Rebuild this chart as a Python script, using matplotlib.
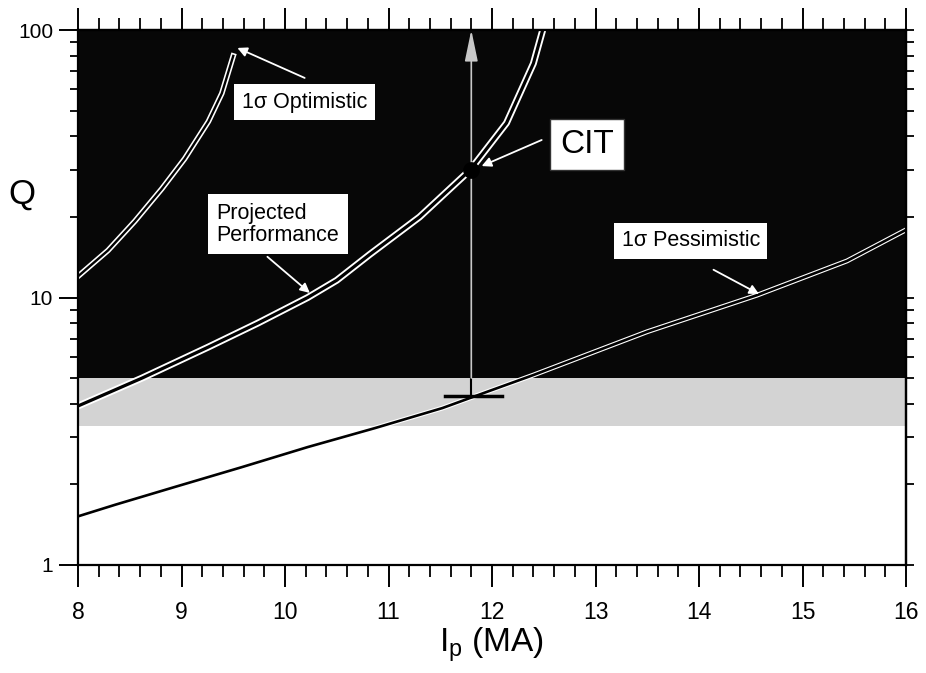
import numpy as np
import matplotlib
matplotlib.use('Agg')
import matplotlib.pyplot as plt
from matplotlib.ticker import MultipleLocator, NullFormatter

plt.rcParams['font.family'] = ['Liberation Sans', 'DejaVu Sans']

# curves: plasma current Ip (MA) vs Q
opt_ip = [8.0, 8.29, 8.55, 8.81, 9.03, 9.26, 9.39, 9.5]
opt_q = [12.0, 15.0, 19.3, 25.5, 33.0, 45.5, 58.0, 80.0]

proj_ip = [8.0, 8.62, 9.26, 9.74, 10.22, 10.5, 10.82, 11.3, 11.79, 12.14, 12.4, 12.49]
proj_q = [3.93, 5.0, 6.53, 8.03, 10.0, 11.6, 14.5, 20.0, 30.0, 44.9, 75.0, 100.0]

pess_ip = [8.0, 8.36, 8.94, 9.58, 10.22, 10.87, 11.52, 12.0, 12.4, 13.5, 14.56, 15.43, 16.0]
pess_q = [1.52, 1.68, 1.96, 2.32, 2.76, 3.25, 3.86, 4.51, 5.13, 7.45, 10.2, 13.7, 17.9]

# CIT design point and its lower bound
cit_ip = 11.8
cit_q = 30.0
cit_q_low = 4.3
cit_bar = [11.55, 12.1]

# shaded Q regions
q_dark = [5.0, 100.0]
q_gray = [3.3, 5.0]

fig = plt.figure(figsize=(9.26, 6.73), dpi=100)
ax = fig.add_axes([78/926, 1-565/673, 828/926, 535/673])
ax.set_yscale('log')
ax.set_xlim(8, 16)
ax.set_ylim(1, 100)

ax.axhspan(q_dark[0], q_dark[1], color='#070707', zorder=0, lw=0)
ax.axhspan(q_gray[0], q_gray[1], color='#d3d3d3', zorder=0, lw=0)

# curves: white halo + black core gives the double-line look on the dark fill
def curve(x, y, w_out, w_in):
    ax.plot(x, y, color='white', lw=w_out, zorder=3, solid_joinstyle='round')
    ax.plot(x, y, color='black', lw=w_in, zorder=4, solid_joinstyle='round')

curve(opt_ip, opt_q, 4.0, 1.7)
curve(proj_ip, proj_q, 5.0, 2.3)
curve(pess_ip, pess_q, 3.5, 1.9)

# CIT vertical range arrow
ax.plot([cit_ip, cit_ip], [cit_q_low, q_dark[0]], color='black', lw=1.5, zorder=5)
ax.annotate('', xy=(cit_ip, 100), xytext=(cit_ip, q_dark[0]),
            arrowprops=dict(arrowstyle='-|>,head_width=0.25,head_length=1.2',
                            color='#c8c8c8', lw=1.2, mutation_scale=16,
                            shrinkA=0, shrinkB=0), zorder=5)
ax.plot(cit_bar, [cit_q_low, cit_q_low], color='black', lw=2.5, zorder=5)
ax.plot(cit_ip, cit_q, 'o', color='black', ms=11, mec='black', zorder=6)

# labels with pointer arrows
arr = dict(arrowstyle='-|>', color='white', lw=1.3, mutation_scale=14,
           shrinkA=0, shrinkB=0)
ax.text(10.19, 53.8, '1σ Optimistic', fontsize=15.5, ha='center', va='center',
        bbox=dict(boxstyle='square,pad=0.35', fc='white', ec='none'), zorder=7)
ax.annotate('', xy=(9.54, 85.7), xytext=(10.19, 66.2), arrowprops=arr, zorder=6)

ax.text(9.93, 18.8, 'Projected\nPerformance', fontsize=15.5, ha='center',
        va='center', multialignment='left', linespacing=1.05,
        bbox=dict(boxstyle='square,pad=0.4', fc='white', ec='none'), zorder=7)
ax.annotate('', xy=(10.24, 10.4), xytext=(9.83, 14.2), arrowprops=arr, zorder=6)

ax.text(12.92, 37.2, 'CIT', fontsize=24, ha='center', va='center',
        bbox=dict(boxstyle='square,pad=0.3', fc='white', ec='#333333', lw=1), zorder=7)
ax.annotate('', xy=(11.9, 31.0), xytext=(12.48, 38.8), arrowprops=arr, zorder=6)

ax.text(13.92, 16.3, '1σ Pessimistic', fontsize=15.5, ha='center', va='center',
        bbox=dict(boxstyle='square,pad=0.35', fc='white', ec='none'), zorder=7)
ax.annotate('', xy=(14.58, 10.3), xytext=(14.14, 12.7), arrowprops=arr, zorder=6)

# axes and ticks
for s in ax.spines.values():
    s.set_linewidth(1.6)
    s.set_zorder(8)
ax.xaxis.set_major_locator(MultipleLocator(1))
ax.xaxis.set_minor_locator(MultipleLocator(0.2))
ax.set_yticks([1, 10, 100])
ax.set_yticklabels(['1', '10', '100'])
ax.yaxis.set_minor_formatter(NullFormatter())
ax.tick_params(axis='x', which='major', direction='out', length=16, width=1.4,
               labelsize=16.5, pad=10)
ax.tick_params(axis='x', which='minor', direction='out', length=8.5, width=1.3)
ax.tick_params(axis='y', which='major', direction='out', length=14, width=1.4,
               labelsize=15, pad=4)
ax.tick_params(axis='y', which='minor', direction='out', length=6, width=1.3)

top = ax.secondary_xaxis('top')
top.xaxis.set_major_locator(MultipleLocator(1))
top.xaxis.set_minor_locator(MultipleLocator(0.2))
top.tick_params(which='major', direction='out', length=16, width=1.4, labeltop=False)
top.tick_params(which='minor', direction='out', length=8.5, width=1.3)
top.spines['top'].set_linewidth(1.6)

right = ax.secondary_yaxis('right')
right.tick_params(which='both', direction='out', length=6, width=1.3, labelright=False)
right.yaxis.set_minor_formatter(NullFormatter())
right.spines['right'].set_linewidth(1.6)

ax.set_xlabel('I$_{\\mathregular{p}}$ (MA)', fontsize=24, labelpad=1)
ax.set_ylabel('Q', fontsize=25, rotation=0, va='center', ha='center')
ax.yaxis.set_label_coords(-0.068, 0.693)

fig.savefig('out.png', dpi=100)
